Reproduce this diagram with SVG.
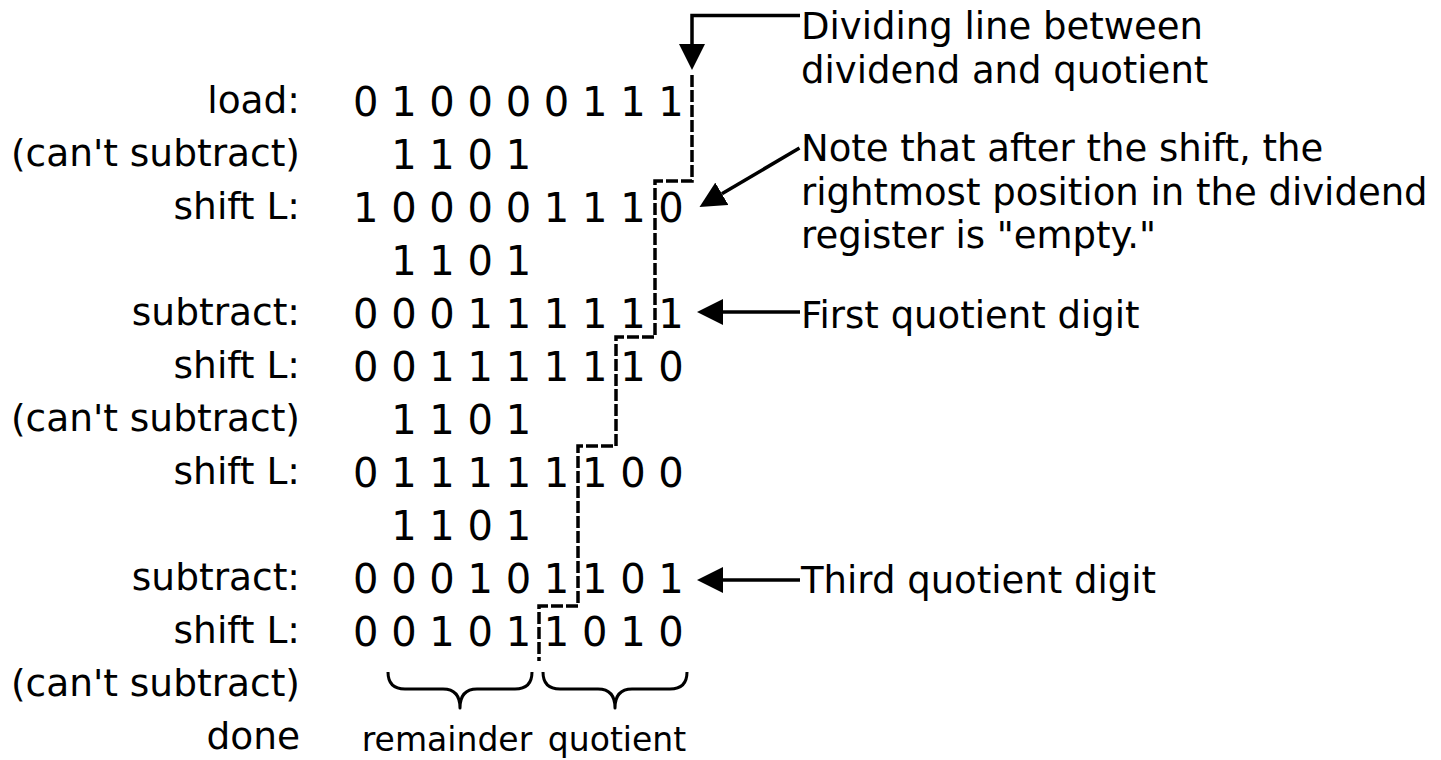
<svg xmlns="http://www.w3.org/2000/svg" width="1441" height="760" viewBox="0 0 1441 760">
  <style>
    .lbl { font-family: "DejaVu Sans", Verdana, sans-serif; font-size: 37.5px; fill: #000; text-anchor: end; }
    .bits { font-family: "DejaVu Sans", Verdana, sans-serif; font-size: 40px; fill: #000; }
    .note { font-family: "DejaVu Sans", Verdana, sans-serif; font-size: 37px; fill: #000; }
    .cap { font-family: "DejaVu Sans", Verdana, sans-serif; font-size: 33px; fill: #000; text-anchor: middle; }
    .wire { fill: none; stroke: #000; stroke-width: 3.5; }
    .divider { fill: none; stroke: #000; stroke-width: 3.5; stroke-dasharray: 12 3; }
    .brace { fill: none; stroke: #000; stroke-width: 3; stroke-linejoin: round; }
  </style>
  <defs>
    <marker id="head" markerUnits="userSpaceOnUse" markerWidth="27" markerHeight="26" viewBox="0 0 27 26" refX="0" refY="13" orient="auto">
      <path d="M0,0 L26,13 L0,26 Z" fill="#000"/>
    </marker>
  </defs>

  <!-- step labels -->
  <g id="step-labels">
    <text class="lbl" x="300" y="113">load:</text>
    <text class="lbl" x="300" y="166">(can't subtract)</text>
    <text class="lbl" x="300" y="219">shift L:</text>
    <text class="lbl" x="300" y="325">subtract:</text>
    <text class="lbl" x="300" y="378">shift L:</text>
    <text class="lbl" x="300" y="431">(can't subtract)</text>
    <text class="lbl" x="300" y="484">shift L:</text>
    <text class="lbl" x="300" y="590">subtract:</text>
    <text class="lbl" x="300" y="643">shift L:</text>
    <text class="lbl" x="300" y="696">(can't subtract)</text>
    <text class="lbl" x="300" y="749">done</text>
  </g>

  <!-- register contents, one row per step -->
  <g id="register-rows">
    <text id="row-load" class="bits" x="353" y="116">0 1 0 0 0 0 1 1 1</text>
    <text id="row-div1" class="bits" x="391.2" y="169">1 1 0 1</text>
    <text id="row-shift1" class="bits" x="353" y="222">1 0 0 0 0 1 1 1 0</text>
    <text id="row-div2" class="bits" x="391.2" y="275">1 1 0 1</text>
    <text id="row-sub1" class="bits" x="353" y="328">0 0 0 1 1 1 1 1 1</text>
    <text id="row-shift2" class="bits" x="353" y="381">0 0 1 1 1 1 1 1 0</text>
    <text id="row-div3" class="bits" x="391.2" y="434">1 1 0 1</text>
    <text id="row-shift3" class="bits" x="353" y="487">0 1 1 1 1 1 1 0 0</text>
    <text id="row-div4" class="bits" x="391.2" y="540">1 1 0 1</text>
    <text id="row-sub2" class="bits" x="353" y="593">0 0 0 1 0 1 1 0 1</text>
    <text id="row-shift4" class="bits" x="353" y="646">0 0 1 0 1 1 0 1 0</text>
  </g>

  <!-- annotations -->
  <g id="note-divider">
    <text class="note" x="801" y="39">Dividing line between</text>
    <text class="note" x="801" y="83">dividend and quotient</text>
  </g>
  <g id="note-empty">
    <text class="note" x="801" y="161">Note that after the shift, the</text>
    <text class="note" x="801" y="205">rightmost position in the dividend</text>
    <text class="note" x="801" y="248">register is "empty."</text>
  </g>
  <g id="note-first">
    <text class="note" x="801" y="328">First quotient digit</text>
  </g>
  <g id="note-third">
    <text class="note" x="801" y="593">Third quotient digit</text>
  </g>

  <!-- braces and captions -->
  <g id="remainder">
    <path class="brace" d="M388,672 Q388,689 405,689 H443 Q460,689 460,708 Q460,689 477,689 H515 Q532,689 532,672"/>
    <text class="cap" x="447" y="751">remainder</text>
  </g>
  <g id="quotient">
    <path class="brace" d="M543,672 Q543,689 560,689 H598 Q615,689 615,708 Q615,689 632,689 H670 Q687,689 687,672"/>
    <text class="cap" x="617" y="751">quotient</text>
  </g>

  <!-- connectors -->
  <g id="connectors">
    <path class="divider" d="M692,75 V181 H655 V337 H616 V446 H578 V606 H539 V661"/>
    <path class="wire" d="M800,15.5 H692 V44" marker-end="url(#head)"/>
    <path class="wire" d="M799.5,148 L721.9,193.8" marker-end="url(#head)"/>
    <path class="wire" d="M800,312 H723" marker-end="url(#head)"/>
    <path class="wire" d="M800,580 H723" marker-end="url(#head)"/>
  </g>
</svg>
